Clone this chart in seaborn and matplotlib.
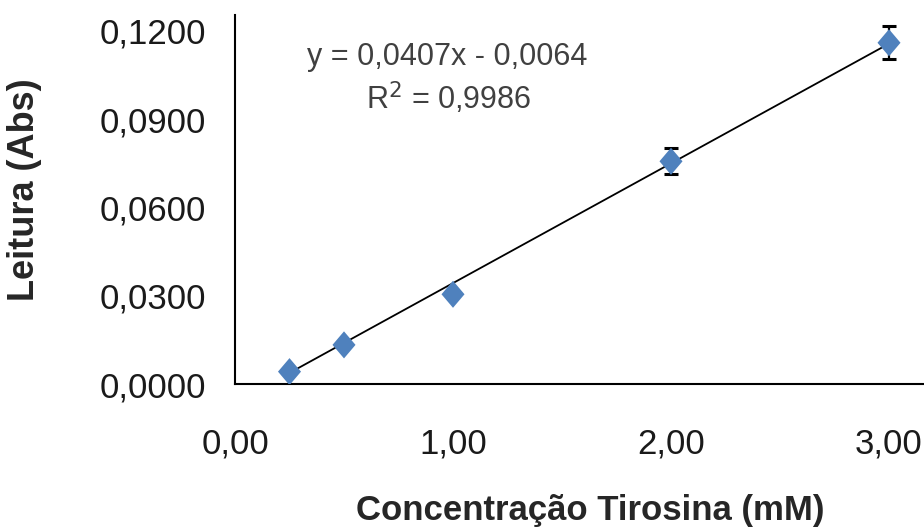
import numpy as np
import pandas as pd
import seaborn as sns
import matplotlib.pyplot as plt
from matplotlib.ticker import FuncFormatter

# data
conc = [0.25, 0.5, 1.0, 2.0, 3.0]
leitura = [0.0042, 0.0133, 0.0305, 0.0757, 0.1160]
erro = [0.0, 0.0, 0.0, 0.0044, 0.0056]
slope = 0.0407
intercept = -0.0064
r2 = 0.9986

df = pd.DataFrame({'conc': conc, 'leitura': leitura, 'erro': erro})
trend = pd.DataFrame({'conc': [min(conc), max(conc)]})
trend['fit'] = slope * trend['conc'] + intercept

sns.set_style('white')
plt.rcParams['font.family'] = ['Liberation Sans', 'DejaVu Sans']

fig = plt.figure(figsize=(9.24, 5.31), dpi=100)
ax = fig.add_axes([235 / 924, 1 - 384 / 531, 1 - 235 / 924, (384 - 15) / 531])

sns.lineplot(x='conc', y='fit', data=trend, color='black', linewidth=1.3, ax=ax, zorder=2)
ax.errorbar(df['conc'], df['leitura'], yerr=df['erro'], fmt='none', ecolor='black',
            elinewidth=1.6, capsize=5, capthick=2.2, zorder=3)
diamond = [(0, 1), (0.85, 0), (0, -1), (-0.85, 0), (0, 1)]
sns.scatterplot(x='conc', y='leitura', data=df, marker=diamond, s=380, color='#4F81BD',
                edgecolor='none', ax=ax, zorder=4)

ax.set_xlim(0, (924 - 235) / 218)
ax.set_ylim(0, 0.12 * (384 - 15) / 353)
ax.set_xticks([0, 1, 2, 3])
ax.set_yticks([0, 0.03, 0.06, 0.09, 0.12])
ax.xaxis.set_major_formatter(FuncFormatter(lambda v, p: f'{v:.2f}'.replace('.', ',')))
ax.yaxis.set_major_formatter(FuncFormatter(lambda v, p: f'{v:.4f}'.replace('.', ',')))
ax.tick_params(axis='both', length=0, labelsize=25, colors='#1a1a1a')
ax.tick_params(axis='y', pad=21)
ax.tick_params(axis='x', pad=31)

for side in ['top', 'right']:
    ax.spines[side].set_visible(False)
for side in ['left', 'bottom']:
    ax.spines[side].set_color('black')
    ax.spines[side].set_linewidth(1.5)

ax.set_xlabel('Concentração Tirosina (mM)', fontsize=25, fontweight='bold')
ax.set_ylabel('Leitura (Abs)', fontsize=26, fontweight='bold')
ax.xaxis.set_label_coords(0.515, -0.298)
ax.yaxis.set_label_coords(-0.28, 0.526)

ax.text(0.308, 0.885, f'y = {slope:.4f}x - {abs(intercept):.4f}'.replace('.', ','),
        transform=ax.transAxes, ha='center', va='center', fontsize=22, color='#404040')
ax.text(0.31, 0.775, f'R$^2$ = {r2:.4f}'.replace('.', ','),
        transform=ax.transAxes, ha='center', va='center', fontsize=22, color='#404040')

fig.savefig('out.png', dpi=100)
